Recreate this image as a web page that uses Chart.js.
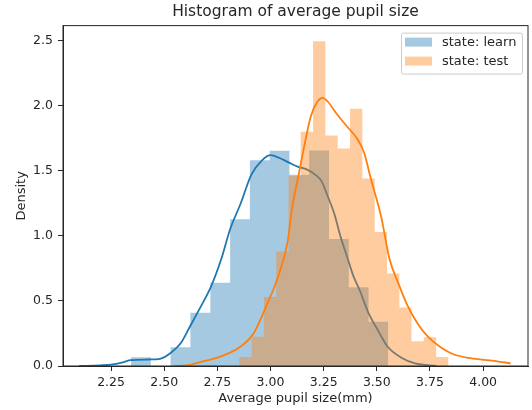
<!DOCTYPE html>
<html>
<head>
<meta charset="utf-8">
<script src="https://cdn.jsdelivr.net/npm/chart.js@4.4.0/dist/chart.umd.min.js"></script>
<style>
  body { margin: 0; background: #fff; }
  #wrap { width: 532px; height: 410px; }
</style>
</head>
<body>
<div id="wrap"><canvas id="myChart" width="532" height="410"></canvas></div>
<script>
// histogram bins (edges in mm) and densities
const learnEdges = [2.344, 2.437, 2.530, 2.623, 2.717, 2.810, 2.903, 2.996, 3.089, 3.182, 3.275, 3.368, 3.461, 3.554];
const learnDensity = [0.067, 0, 0.144, 0.41, 0.64, 1.128, 1.58, 1.654, 1.47, 1.656, 0.975, 0.605, 0.34];

const testEdges = [2.853, 2.911, 2.969, 3.027, 3.085, 3.142, 3.200, 3.258, 3.316, 3.374, 3.432, 3.490, 3.548, 3.606, 3.663, 3.721, 3.779, 3.837];
const testDensity = [0.07, 0.225, 0.53, 0.88, 1.46, 1.80, 2.495, 1.77, 1.67, 1.977, 1.44, 1.03, 0.71, 0.45, 0.19, 0.22, 0.07];

// kde curves
const learnKdeX = [2.10, 2.20, 2.25, 2.30, 2.34, 2.43, 2.48, 2.53, 2.58, 2.62, 2.67, 2.72, 2.77, 2.81, 2.86, 2.91, 2.96, 3.00, 3.04, 3.09, 3.13, 3.17, 3.21, 3.24, 3.27, 3.30, 3.33, 3.36, 3.39, 3.42, 3.46, 3.51, 3.55, 3.62, 3.68, 3.78];
const learnKdeY = [0.0, 0.005, 0.01, 0.025, 0.045, 0.05, 0.055, 0.10, 0.18, 0.30, 0.45, 0.61, 0.83, 1.05, 1.25, 1.47, 1.58, 1.62, 1.60, 1.56, 1.53, 1.51, 1.47, 1.42, 1.30, 1.17, 0.99, 0.84, 0.69, 0.58, 0.41, 0.26, 0.15, 0.06, 0.02, 0.0];

const testKdeX = [2.55, 2.61, 2.67, 2.76, 2.86, 2.92, 2.98, 3.03, 3.08, 3.10, 3.13, 3.16, 3.19, 3.22, 3.245, 3.27, 3.31, 3.36, 3.41, 3.44, 3.47, 3.52, 3.56, 3.60, 3.64, 3.69, 3.74, 3.80, 3.86, 3.94, 4.05, 4.13];
const testKdeY = [0.0, 0.005, 0.03, 0.07, 0.15, 0.25, 0.46, 0.66, 0.95, 1.2, 1.45, 1.70, 1.92, 2.03, 2.06, 2.03, 1.94, 1.84, 1.74, 1.64, 1.45, 1.15, 0.82, 0.64, 0.48, 0.33, 0.225, 0.144, 0.09, 0.06, 0.04, 0.02];

const xTicks = [2.25, 2.50, 2.75, 3.00, 3.25, 3.50, 3.75, 4.00];
const yTicks = [0.0, 0.5, 1.0, 1.5, 2.0, 2.5];

const FONT = 'DejaVu Sans';
const TEXT = '#262626';

// stepped outline for a histogram, last point drops to 0
function steps(edges, dens) {
  return edges.map((e, i) => ({ x: e, y: i < dens.length ? dens[i] : 0 }));
}
function curve(xs, ys) {
  return xs.map((x, i) => ({ x: x, y: ys[i] }));
}

const blueHist = 'rgba(31, 119, 180, 0.4)';
const orangeHist = 'rgba(255, 127, 14, 0.4)';

// frame + legend box like matplotlib
const frameAndLegend = {
  id: 'frameAndLegend',
  afterDatasetsDraw(chart) {
    const { ctx, chartArea: a } = chart;
    ctx.save();
    ctx.strokeStyle = TEXT;
    ctx.lineWidth = 1;
    ctx.strokeRect(a.left, a.top, a.right - a.left, a.bottom - a.top);

    const items = chart.data.datasets.filter(d => d.legend);
    const bx = a.right - 127, by = a.top + 7, bw = 121, bh = 41;
    ctx.fillStyle = 'rgba(255,255,255,0.8)';
    ctx.strokeStyle = '#cccccc';
    ctx.beginPath();
    ctx.roundRect(bx + 0.5, by + 0.5, bw, bh, 2);
    ctx.fill();
    ctx.stroke();

    ctx.font = '13px "' + FONT + '"';
    ctx.textBaseline = 'middle';
    items.forEach((d, i) => {
      const y = by + 5 + i * 19;
      ctx.fillStyle = d.backgroundColor;
      ctx.fillRect(bx + 4, y, 27, 9);
      ctx.fillStyle = TEXT;
      ctx.fillText(d.label, bx + 41, y + 5);
    });
    ctx.restore();
  }
};

const config = {
  type: 'line',
  data: {
    datasets: [
      {
        label: 'state: learn',
        legend: true,
        data: steps(learnEdges, learnDensity),
        stepped: 'before',
        fill: 'origin',
        backgroundColor: blueHist,
        borderColor: 'rgba(0,0,0,0)',
        borderWidth: 0,
        pointRadius: 0,
        order: 4
      },
      {
        label: 'learn kde',
        data: curve(learnKdeX, learnKdeY),
        borderColor: '#1f77b4',
        borderWidth: 1.8,
        cubicInterpolationMode: 'monotone',
        fill: false,
        pointRadius: 0,
        order: 3
      },
      {
        label: 'state: test',
        legend: true,
        data: steps(testEdges, testDensity),
        stepped: 'before',
        fill: 'origin',
        backgroundColor: orangeHist,
        borderColor: 'rgba(0,0,0,0)',
        borderWidth: 0,
        pointRadius: 0,
        order: 2
      },
      {
        label: 'test kde',
        data: curve(testKdeX, testKdeY),
        borderColor: '#ff7f0e',
        borderWidth: 1.8,
        cubicInterpolationMode: 'monotone',
        fill: false,
        pointRadius: 0,
        order: 1
      }
    ]
  },
  options: {
    responsive: false,
    animation: false,
    layout: { padding: { top: 0, right: 4, bottom: 0, left: 0 } },
    scales: {
      x: {
        type: 'linear',
        min: 2.024,
        max: 4.211,
        afterBuildTicks: s => { s.ticks = xTicks.map(v => ({ value: v })); },
        afterFit: s => { s.height = 44; },
        grid: { drawOnChartArea: false, tickLength: 5, color: TEXT },
        border: { color: TEXT },
        ticks: {
          autoSkip: false,
          maxRotation: 0,
          padding: 4,
          color: TEXT,
          font: { family: FONT, size: 12.5 },
          callback: v => v.toFixed(2)
        },
        title: {
          display: true,
          text: 'Average pupil size(mm)',
          color: TEXT,
          font: { family: FONT, size: 13 },
          padding: { top: 0, bottom: 4 }
        }
      },
      y: {
        min: 0,
        max: 2.615,
        afterBuildTicks: s => { s.ticks = yTicks.map(v => ({ value: v })); },
        afterFit: s => { s.width = 63; },
        grid: { drawOnChartArea: false, tickLength: 5, color: TEXT },
        border: { color: TEXT },
        ticks: {
          padding: 5,
          color: TEXT,
          font: { family: FONT, size: 12.5 },
          callback: v => v.toFixed(1)
        },
        title: {
          display: true,
          text: 'Density',
          color: TEXT,
          font: { family: FONT, size: 13 },
          padding: { top: 14, bottom: 0 }
        }
      }
    },
    plugins: {
      legend: { display: false },
      tooltip: { enabled: false },
      title: {
        display: true,
        text: 'Histogram of average pupil size',
        fullSize: false,
        color: TEXT,
        font: { family: FONT, size: 15.5, weight: 'normal' },
        padding: { top: 3, bottom: 4 }
      }
    }
  },
  plugins: [frameAndLegend]
};

var ctx = document.getElementById('myChart').getContext('2d');
var myChart = new Chart(ctx, config);
</script>
</body>
</html>
